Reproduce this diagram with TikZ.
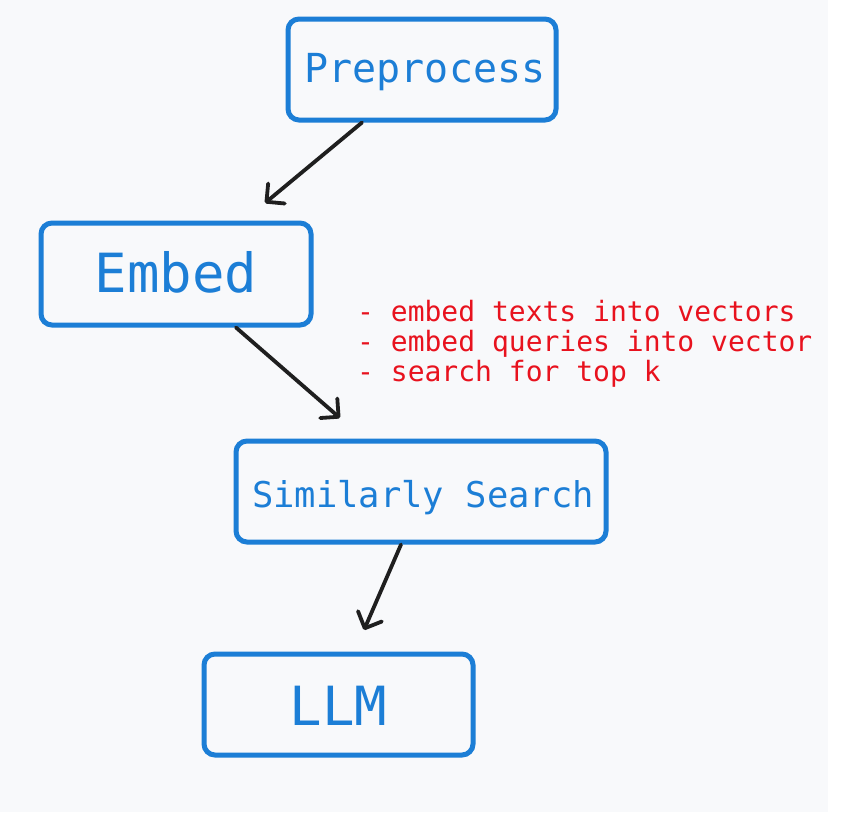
\documentclass[tikz,border=0pt]{standalone}
\usepackage{fontspec}
\newfontfamily\monofnt{DejaVu Sans Mono}
\usetikzlibrary{arrows.meta}
\definecolor{boxblue}{RGB}{28,126,214}
\definecolor{notered}{RGB}{232,18,30}
\definecolor{bgc}{RGB}{248,249,251}
\tikzset{
  stepbox/.style={draw=boxblue, line width=5pt, rounded corners=11pt, text=boxblue, inner sep=0pt, font=\monofnt},
  conn/.style={draw=black!88, line width=3.8pt, line cap=round, -{Straight Barb[length=13pt,width=26pt,line width=3.8pt, round]}},
}
\begin{document}
\begin{tikzpicture}[x=1pt,y=-1pt]
\useasboundingbox (0,0) rectangle (853,812);
\fill[white] (0,0) rectangle (853,812);
\fill[bgc] (0,0) rectangle (828,812);
\node[stepbox, minimum width=268pt, minimum height=101pt, font=\monofnt\fontsize{40}{44}\selectfont] (pre) at (422,69.5) {\hspace{6pt}\raisebox{-12.5pt}[0pt][0pt]{Preprocess}};
\node[stepbox, minimum width=270pt, minimum height=102pt, font=\monofnt\fontsize{54}{58}\selectfont] (emb) at (176,274) {\raisebox{-18pt}[0pt][0pt]{Embed}};
\node[stepbox, minimum width=370pt, minimum height=101pt, font=\monofnt\fontsize{35.5}{40}\selectfont] (sim) at (421,491.5) {\hspace{4pt}\raisebox{-15.5pt}[0pt][0pt]{Similarly Search}};
\node[stepbox, minimum width=269pt, minimum height=101pt, font=\monofnt\fontsize{54}{58}\selectfont] (llm) at (338.5,704.5) {\raisebox{-20.5pt}[0pt][0pt]{LLM}};
\node[anchor=north west, inner sep=0pt, align=left, text=notered, font=\monofnt\fontsize{28}{30}\selectfont] (note) at (357,300) {- embed texts into vectors\\- embed queries into vector\\- search for top k};
\coordinate (a1s) at (pre.south -| 362,0);
\coordinate (a1e) at (265,203);
\coordinate (a2s) at (emb.south -| 236,0);
\coordinate (a2e) at (340,418);
\coordinate (a3s) at (sim.south -| 401,0);
\coordinate (a3e) at (364,630);
\draw[conn] (a1s) -- (a1e);
\draw[conn] (a2s) -- (a2e);
\draw[conn] (a3s) -- (a3e);
\end{tikzpicture}
\end{document}
